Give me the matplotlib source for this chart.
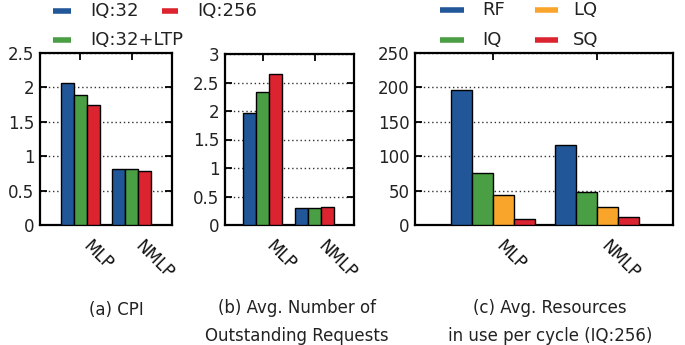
import matplotlib
matplotlib.use("Agg")
import matplotlib.pyplot as plt
from matplotlib.lines import Line2D
import numpy as np

groups = ["MLP", "NMLP"]

cpi_labels = ["IQ:32", "IQ:32+LTP", "IQ:256"]
cpi_iq32 = [2.07, 0.81]
cpi_ltp = [1.89, 0.81]
cpi_iq256 = [1.75, 0.78]

req_iq32 = [1.96, 0.29]
req_ltp = [2.33, 0.29]
req_iq256 = [2.65, 0.32]

res_labels = ["RF", "IQ", "LQ", "SQ"]
res_rf = [196, 117]
res_iq = [75, 48]
res_lq = [43, 26]
res_sq = [9, 11]

captions = ["(a) CPI", "(b) Avg. Number of\nOutstanding Requests",
            "(c) Avg. Resources\nin use per cycle (IQ:256)"]

BLUE = "#215799"
GREEN = "#4a9e43"
RED = "#dc2430"
ORANGE = "#f9a52c"

W, H = 685, 345
fig = plt.figure(figsize=(W / 100, H / 100), dpi=100)
plt.rcParams['font.family'] = ['DejaVu Sans']

def px_axes(l, t, r, b):
    return fig.add_axes([l / W, 1 - b / H, (r - l) / W, (b - t) / H])

def style(ax, ylim, yticks, yticklabels, xlim):
    ax.set_ylim(*ylim)
    ax.set_xlim(*xlim)
    ax.set_yticks(yticks)
    ax.set_yticklabels(yticklabels, fontsize=12, color="#222222")
    ax.set_xticks(np.arange(len(groups)))
    ax.set_xticklabels(groups, rotation=-45, ha="left", fontsize=12,
                       color="#111111", rotation_mode="default")
    ax.tick_params(axis="x", direction="in", top=True, bottom=True,
                   length=5, width=1.3, pad=9)
    ax.tick_params(axis="y", direction="in", left=True, right=True,
                   length=5, width=1.3, pad=4)
    for s in ax.spines.values():
        s.set_linewidth(1.6)
    ax.yaxis.grid(True, linestyle=(0, (1, 2)), color="#333333", linewidth=1.0)
    ax.set_axisbelow(True)

x = np.arange(len(groups))

ax1 = px_axes(40, 53, 172, 225)
bw = 0.25
for i, (vals, c) in enumerate([(cpi_iq32, BLUE), (cpi_ltp, GREEN), (cpi_iq256, RED)]):
    ax1.bar(x + (i - 1) * bw, vals, bw, color=c, edgecolor="black", linewidth=1.0, zorder=3)
style(ax1, (0, 2.5), [0, 0.5, 1, 1.5, 2, 2.5], ["0", "0.5", "1", "1.5", "2", "2.5"], (-0.77, 1.77))

ax2 = px_axes(225, 54, 354, 225)
for i, (vals, c) in enumerate([(req_iq32, BLUE), (req_ltp, GREEN), (req_iq256, RED)]):
    ax2.bar(x + (i - 1) * bw, vals, bw, color=c, edgecolor="black", linewidth=1.0, zorder=3)
style(ax2, (0, 3), [0, 0.5, 1, 1.5, 2, 2.5, 3], ["0", "0.5", "1", "1.5", "2", "2.5", "3"], (-0.73, 1.75))

ax3 = px_axes(415, 53, 673, 225)
bw3 = 0.2
for i, (vals, c) in enumerate([(res_rf, BLUE), (res_iq, GREEN), (res_lq, ORANGE), (res_sq, RED)]):
    ax3.bar(x + (i - 1.5) * bw3, vals, bw3, color=c, edgecolor="black", linewidth=1.0, zorder=3)
style(ax3, (0, 250), [0, 50, 100, 150, 200, 250], ["0", "50", "100", "150", "200", "250"], (-0.75, 1.73))

# legends (manual placement)
def leg(x0, x1, y, tx, label, color):
    fig.add_artist(Line2D([x0 / W, x1 / W], [1 - y / H, 1 - y / H], color=color,
                          linewidth=4, solid_capstyle="butt"))
    fig.text(tx / W, 1 - y / H, label, fontsize=13, va="center", ha="left", color="#222222")

leg(53, 71, 11, 90, cpi_labels[0], BLUE)
leg(53, 71, 40, 90, cpi_labels[1], GREEN)
leg(162, 178, 11, 197, cpi_labels[2], RED)

leg(440, 464, 10, 482, res_labels[0], BLUE)
leg(440, 464, 40, 482, res_labels[1], GREEN)
leg(535, 558, 10, 573, res_labels[2], ORANGE)
leg(535, 558, 40, 573, res_labels[3], RED)

# captions
for cx, cap in zip([116, 297, 550], captions):
    fig.text(cx / W, 1 - 310 / H, cap, fontsize=12, ha="center", va="center",
             linespacing=1.75, color="#222222") if "\n" not in cap else \
        fig.text(cx / W, 1 - 322 / H, cap, fontsize=12, ha="center", va="center",
                 linespacing=1.75, color="#222222")

fig.savefig("out.png", dpi=100)
